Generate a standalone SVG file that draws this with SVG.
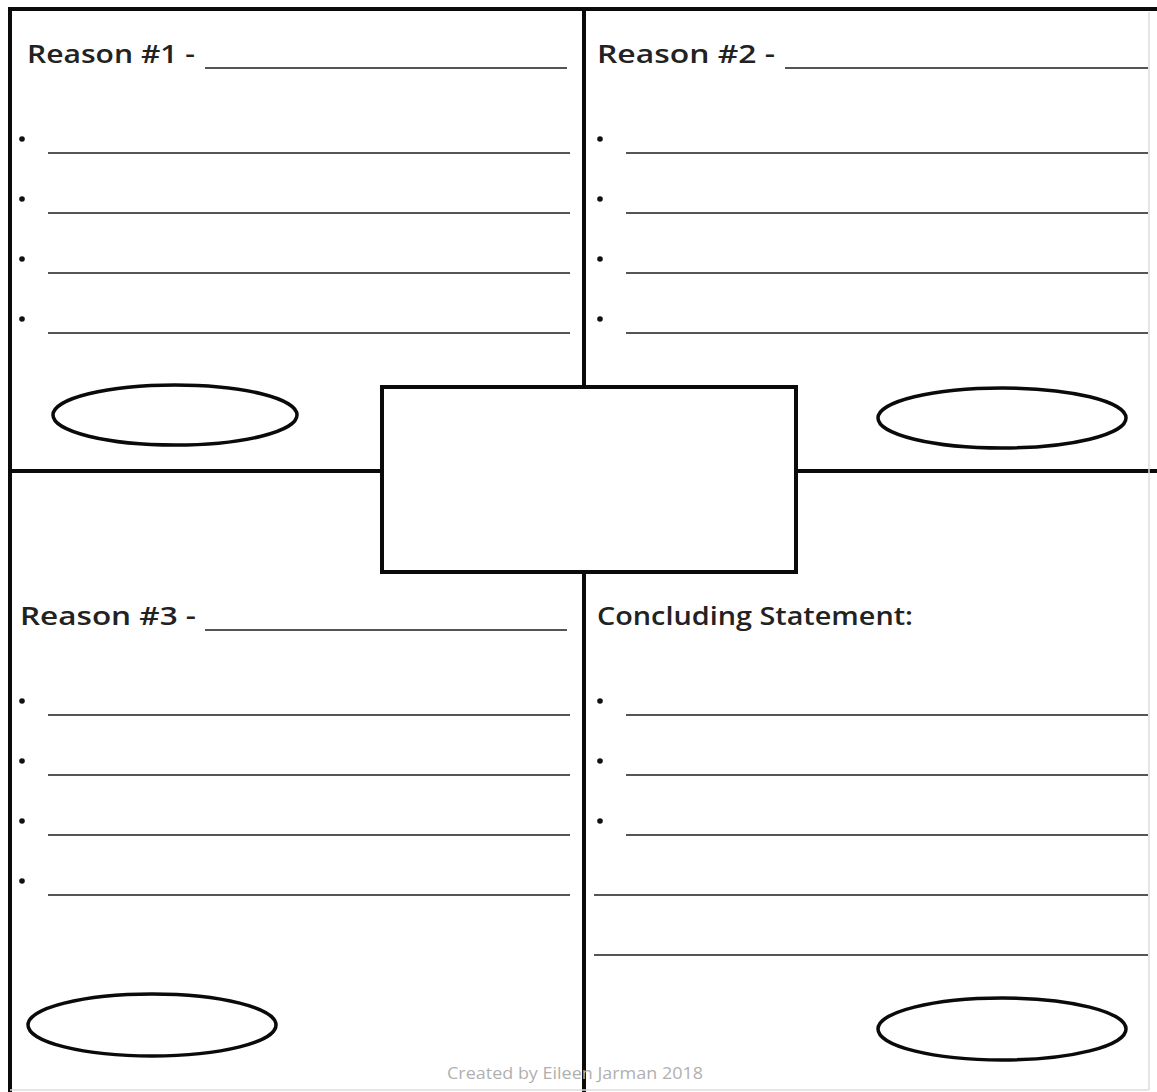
<svg xmlns="http://www.w3.org/2000/svg" width="1157" height="1092" viewBox="0 0 1157 1092">
<style>
.frame{stroke:#0a0a0a;stroke-width:4;fill:none}
.rule{stroke:#555;stroke-width:2}
.title{font-family:"Open Sans","DejaVu Sans",sans-serif;font-weight:600;font-size:26px;fill:#222}
.oval{fill:none;stroke:#0a0a0a;stroke-width:3.5}
.dot{fill:#111}
.credit{font-family:"Open Sans","Liberation Sans",sans-serif;font-size:17px;fill:#b0b0b0}
</style>
<rect width="1157" height="1092" fill="#fff"/>
<g id="connectors">
<line class="frame" x1="8" y1="9" x2="1157" y2="9"/>
<line class="frame" x1="10" y1="7" x2="10" y2="1092"/>
<line class="frame" x1="584" y1="9" x2="584" y2="387"/>
<line class="frame" x1="584" y1="572" x2="584" y2="1092"/>
<line class="frame" x1="10" y1="471" x2="382" y2="471"/>
<line class="frame" x1="796" y1="471" x2="1157" y2="471"/>
<line stroke="#ddd" stroke-width="1.5" x1="1149" y1="12" x2="1149" y2="1090"/>
<line stroke="#ddd" stroke-width="1.5" x1="10" y1="1090" x2="1149" y2="1090"/>
</g>
<g id="reason1">
<text class="title" x="27" y="63" textLength="168" lengthAdjust="spacingAndGlyphs">Reason #1 -</text>
<line class="rule" x1="205" y1="68" x2="567" y2="68"/>
<circle class="dot" cx="22" cy="139" r="2.8"/><line class="rule" x1="48" y1="153" x2="570" y2="153"/>
<circle class="dot" cx="22" cy="199" r="2.8"/><line class="rule" x1="48" y1="213" x2="570" y2="213"/>
<circle class="dot" cx="22" cy="259" r="2.8"/><line class="rule" x1="48" y1="273" x2="570" y2="273"/>
<circle class="dot" cx="22" cy="319" r="2.8"/><line class="rule" x1="48" y1="333" x2="570" y2="333"/>
<ellipse class="oval" cx="175" cy="415" rx="122" ry="30"/>
</g>
<g id="reason2">
<text class="title" x="597" y="63" textLength="178" lengthAdjust="spacingAndGlyphs">Reason #2 -</text>
<line class="rule" x1="785" y1="68" x2="1148" y2="68"/>
<circle class="dot" cx="600" cy="139" r="2.8"/><line class="rule" x1="626" y1="153" x2="1148" y2="153"/>
<circle class="dot" cx="600" cy="199" r="2.8"/><line class="rule" x1="626" y1="213" x2="1148" y2="213"/>
<circle class="dot" cx="600" cy="259" r="2.8"/><line class="rule" x1="626" y1="273" x2="1148" y2="273"/>
<circle class="dot" cx="600" cy="319" r="2.8"/><line class="rule" x1="626" y1="333" x2="1148" y2="333"/>
<ellipse class="oval" cx="1002" cy="418" rx="124" ry="30"/>
</g>
<g id="center">
<rect x="382" y="387" width="414" height="185" fill="#fff" stroke="#0a0a0a" stroke-width="4"/>
</g>
<g id="reason3">
<text class="title" x="20" y="625" textLength="176" lengthAdjust="spacingAndGlyphs">Reason #3 -</text>
<line class="rule" x1="205" y1="630" x2="567" y2="630"/>
<circle class="dot" cx="22" cy="701" r="2.8"/><line class="rule" x1="48" y1="715" x2="570" y2="715"/>
<circle class="dot" cx="22" cy="761" r="2.8"/><line class="rule" x1="48" y1="775" x2="570" y2="775"/>
<circle class="dot" cx="22" cy="821" r="2.8"/><line class="rule" x1="48" y1="835" x2="570" y2="835"/>
<circle class="dot" cx="22" cy="881" r="2.8"/><line class="rule" x1="48" y1="895" x2="570" y2="895"/>
<ellipse class="oval" cx="152" cy="1025" rx="124" ry="31"/>
</g>
<g id="conclusion">
<text class="title" x="597" y="625" textLength="316" lengthAdjust="spacingAndGlyphs">Concluding Statement:</text>
<circle class="dot" cx="600" cy="701" r="2.8"/><line class="rule" x1="626" y1="715" x2="1148" y2="715"/>
<circle class="dot" cx="600" cy="761" r="2.8"/><line class="rule" x1="626" y1="775" x2="1148" y2="775"/>
<circle class="dot" cx="600" cy="821" r="2.8"/><line class="rule" x1="626" y1="835" x2="1148" y2="835"/>
<line class="rule" x1="594" y1="895" x2="1148" y2="895"/>
<line class="rule" x1="594" y1="955" x2="1148" y2="955"/>
<ellipse class="oval" cx="1002" cy="1029" rx="124" ry="31"/>
</g>
<g id="credit">
<text class="credit" x="575" y="1079" text-anchor="middle" textLength="256" lengthAdjust="spacingAndGlyphs">Created by Eileen Jarman 2018</text>
</g>
</svg>
